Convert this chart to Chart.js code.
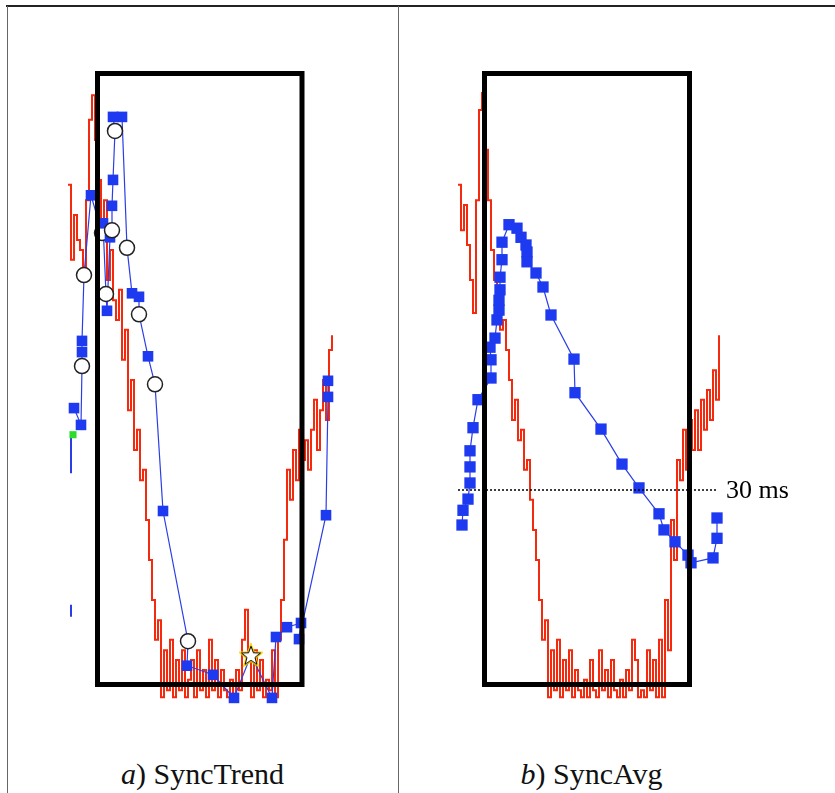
<!DOCTYPE html>
<html lang="en">
<head>
  <meta charset="UTF-8" />
  <title>SyncTrend / SyncAvg</title>
  <script src="https://cdn.jsdelivr.net/npm/chart.js"></script>
  <style>
    body { margin: 0; background: #fff; font-family: "Liberation Serif", serif; }
    #fig { position: relative; width: 835px; height: 793px; overflow: hidden; background: #fff; }
    .rule { position: absolute; background: #666; }
    canvas { position: absolute; }
    .caption { position: absolute; top: 759px; width: 391px; text-align: center; font-size: 30px; line-height: 30px; color: #111; }
  </style>
</head>
<body>
<div id="fig">
  <div class="rule" style="left:6px;top:5px;width:829px;height:2px;background:#222"></div>
  <div class="rule" style="left:7px;top:6px;width:1px;height:787px"></div>
  <div class="rule" style="left:398px;top:6px;width:1px;height:787px"></div>
  <canvas id="chartA" width="300" height="672" style="left:50px;top:35px"></canvas>
  <canvas id="chartB" width="360" height="672" style="left:438px;top:35px"></canvas>
  <div class="caption" style="left:7px"><i>a</i>) SyncTrend</div>
  <div class="caption" style="left:396px"><i>b</i>) SyncAvg</div>
</div>

<script>
  // ---- data (time in s, latency in ms) ----
  const redStep = 0.3;
  const redStartA = -0.2;
  const redA = [
    73.6, 62.9, 69.3, 65.7, 64.3, 61.4, 71.4, 82.9, 86.4, 80.0,
    74.3, 67.1, 71.4, 60.0, 64.3, 57.1, 54.3, 58.6, 48.6, 52.9,
    41.4, 45.7, 35.7, 38.6, 31.4, 32.9, 25.7, 20.0, 14.3, 8.6,
    11.4, 0.4, 7.1, 1.4, 8.6, 0.4, 5.7, 1.4, 7.1, 0.4,
    2.9, 5.7, 0.4, 7.1, 1.4, 4.3, 0.4, 8.6, 1.4, 5.7,
    0.4, 4.3, 1.4, 0.4, 2.9, 0.4, 4.3, 1.4, 8.6, 12.9,
    5.7, 0.4, 7.1, 1.4, 5.7, 0.4, 2.9, 1.4, 7.1, 0.4,
    8.6, 14.3, 22.9, 32.9, 28.6, 35.7, 31.4, 38.6, 34.3, 37.1,
    32.9, 38.6, 42.9, 35.7, 41.4, 45.7, 40.0, 50.0, 52.1
  ];
  const redStartB = 0.0;
  const redB = [
    73.6, 67.1, 70.7, 65.0, 60.0, 55.3, 71.4, 84.3, 86.7, 78.6,
    71.4, 64.3, 60.0, 57.1, 52.9, 54.3, 50.0, 45.7, 40.0, 42.9,
    37.1, 38.6, 32.9, 34.3, 28.6, 24.3, 20.0, 14.3, 8.6, 11.4,
    0.4, 7.1, 1.4, 8.6, 0.4, 5.7, 1.4, 7.1, 0.4, 4.3,
    1.4, 0.4, 2.9, 0.4, 5.7, 1.4, 0.4, 7.1, 1.4, 4.3,
    0.4, 5.7, 1.4, 0.4, 2.9, 0.4, 4.3, 1.4, 8.6, 5.7,
    0.4, 1.4, 0.4, 7.1, 1.4, 5.7, 0.4, 8.6, 0.4, 14.3,
    7.1, 25.7, 20.0, 34.3, 31.4, 38.6, 32.9, 40.0, 35.7, 41.4,
    35.7, 42.9, 38.6, 44.3, 40.0, 47.1, 42.9, 52.1
  ];

  // SyncTrend samples: s = square, o = circle, * = star
  const trendTime = [0.4, 1.1, 1.2, 1.2, 1.2, 1.4, 2.1, 3.2, 3.3, 3.6, 3.7, 4.0, 4.2, 4.2, 4.3, 4.5, 4.3, 5.2, 5.7,
    6.2, 6.9, 6.9, 7.8, 8.5, 9.3, 11.8, 11.7, 14.3, 16.4, 18.1, 20.2, 20.6, 21.7, 23.1, 22.9, 25.6, 25.8, 25.8];
  const trendMs = [41.7, 39.3, 47.7, 49.7, 51.3, 60.7, 72.1, 66.7, 68.1, 58.0, 55.6, 66.1, 67.1, 70.6, 74.3, 81.3, 83.3, 83.3, 64.6,
    58.1, 57.6, 55.1, 49.1, 45.1, 27.0, 8.4, 4.9, 3.6, 0.3, 6.4, 0.3, 9.0, 10.4, 11.0, 8.7, 26.4, 43.3, 45.6];
  const trendMark = ['s', 's', 'o', 's', 's', 'o', 's', 'o', 's', 'o', 's', 's', 'o', 's', 's', 'o', 's', 's', 'o',
    's', 's', 'o', 's', 'o', 's', 'o', 's', 's', 's', '*', 's', 's', 's', 's', 's', 's', 's', 's'];
  const trendGreen = [{ x: 0.3, y: 37.9 }];
  const trendStubs = [{ x: 0.1, y: 37.6 }, { x: 0.1, y: 32.4 }, { x: 0.1, y: null }, { x: 0.1, y: 13.6 }, { x: 0.1, y: 11.9 }];

  // SyncAvg samples
  const avgTime = [0.4, 0.5, 1.0, 1.2, 1.2, 1.2, 1.5, 2.0, 3.3, 3.3, 3.2, 3.7, 3.9, 4.1, 4.1, 4.2, 4.2, 4.4, 4.4, 5.1,
    5.9, 6.3, 6.8, 6.9, 6.9, 7.8, 8.5, 9.3, 11.6, 11.7, 14.3, 16.4, 18.1, 20.1, 20.6, 21.7, 23.0, 23.3, 25.5, 25.9, 25.9];
  const avgMs = [25.0, 27.1, 28.7, 31.0, 33.3, 35.6, 38.9, 42.9, 46.0, 48.6, 50.4, 51.7, 54.3, 55.7, 57.1, 58.6, 60.4, 62.9, 65.4, 67.9,
    67.4, 66.1, 65.0, 64.0, 62.6, 61.0, 59.0, 55.0, 48.7, 43.9, 38.7, 33.7, 30.3, 26.6, 24.3, 22.6, 20.7, 19.6, 20.3, 23.1, 26.0];

  // window boxes and threshold
  const boxA = { t0: 2.75, t1: 23.2, ms0: 2.2, ms1: 89.5 };
  const boxB = { t0: 2.65, t1: 23.15, ms0: 2.2, ms1: 89.5 };
  const thresholdMs = 30;
  const thresholdSpan = [0, 26];

  // ---- helpers ----
  const RED = '#f42a0e';
  const BLUE_LINE = '#2b3ee6';
  const BLUE_MARK = '#1d3af0';

  function makeStar(size) {
    const c = document.createElement('canvas');
    c.width = c.height = size;
    const g = c.getContext('2d');
    const cx = size / 2, cy = size / 2 + 1, R = size / 2 - 2, r = R * 0.42;
    g.beginPath();
    for (let i = 0; i < 10; i++) {
      const rad = i % 2 === 0 ? R : r;
      const a = -Math.PI / 2 + i * Math.PI / 5;
      g.lineTo(cx + rad * Math.cos(a), cy + rad * Math.sin(a));
    }
    g.closePath();
    g.strokeStyle = '#f5d800';
    g.lineWidth = 3;
    g.stroke();
    g.fillStyle = '#fff';
    g.fill();
    g.strokeStyle = '#000';
    g.lineWidth = 1;
    g.stroke();
    return c;
  }
  const starImg = makeStar(24);

  function boxData(b) {
    return [
      { x: b.t0, y: b.ms1 }, { x: b.t1, y: b.ms1 }, { x: b.t1, y: b.ms0 },
      { x: b.t0, y: b.ms0 }, { x: b.t0, y: b.ms1 }
    ];
  }
  function boxDataset(b) {
    return {
      type: 'line', data: boxData(b), borderColor: '#000', borderWidth: 5,
      pointRadius: 0, borderJoinStyle: 'miter', borderCapStyle: 'square', order: 0
    };
  }
  function redDataset(vals, start) {
    return {
      type: 'line',
      data: vals.map((v, i) => ({ x: start + i * redStep, y: v })),
      borderColor: RED, borderWidth: 2, pointRadius: 0, stepped: true, order: 5
    };
  }
  function scales(maxT) {
    return {
      x: { type: 'linear', min: -2, max: maxT, display: false },
      y: { type: 'linear', min: -1, max: 95, display: false }
    };
  }
  const baseOptions = (maxT) => ({
    responsive: false,
    animation: false,
    events: [],
    layout: { padding: 0, autoPadding: false },
    plugins: { legend: { display: false }, tooltip: { enabled: false }, title: { display: false } },
    scales: scales(maxT)
  });

  // ---- a) SyncTrend ----
  new Chart(document.getElementById('chartA'), {
    type: 'line',
    data: {
      datasets: [
        boxDataset(boxA),
        {
          data: trendTime.map((t, i) => ({ x: t, y: trendMs[i] })),
          borderColor: BLUE_LINE, borderWidth: 1.2,
          pointStyle: ctx => trendMark[ctx.dataIndex] === 'o' ? 'circle' : (trendMark[ctx.dataIndex] === '*' ? starImg : 'rect'),
          pointRadius: 7.5,
          pointBackgroundColor: ctx => trendMark[ctx.dataIndex] === 's' ? BLUE_MARK : '#fff',
          pointBorderColor: ctx => trendMark[ctx.dataIndex] === 's' ? BLUE_MARK : '#222',
          pointBorderWidth: ctx => trendMark[ctx.dataIndex] === 's' ? 0 : 1.5,
          order: 2
        },
        {
          data: trendGreen, showLine: false, pointStyle: 'rect', pointRadius: 5,
          pointBackgroundColor: '#2bdc2b', pointBorderWidth: 0, order: 3
        },
        {
          data: trendStubs, borderColor: BLUE_LINE, borderWidth: 2, pointRadius: 0, spanGaps: false, order: 4
        },
        redDataset(redA, redStartA)
      ]
    },
    options: baseOptions(28)
  });

  // ---- b) SyncAvg ----
  const thresholdLabel = {
    id: 'thresholdLabel',
    afterDatasetsDraw(chart) {
      const c = chart.ctx;
      c.save();
      c.font = '26px "Liberation Serif", serif';
      c.fillStyle = '#000';
      c.textBaseline = 'middle';
      c.fillText('30 ms', chart.scales.x.getPixelForValue(thresholdSpan[1] + 0.8), chart.scales.y.getPixelForValue(thresholdMs) + 1);
      c.restore();
    }
  };

  new Chart(document.getElementById('chartB'), {
    type: 'line',
    data: {
      datasets: [
        boxDataset(boxB),
        {
          data: thresholdSpan.map(t => ({ x: t, y: thresholdMs })),
          borderColor: '#000', borderWidth: 1.5, borderDash: [2, 2], pointRadius: 0, order: 1
        },
        {
          data: avgTime.map((t, i) => ({ x: t, y: avgMs[i] })),
          borderColor: BLUE_LINE, borderWidth: 1.2,
          pointStyle: 'rect', pointRadius: 8,
          pointBackgroundColor: BLUE_MARK, pointBorderWidth: 0, order: 2
        },
        redDataset(redB, redStartB)
      ]
    },
    options: baseOptions(34),
    plugins: [thresholdLabel]
  });
</script>
</body>
</html>
